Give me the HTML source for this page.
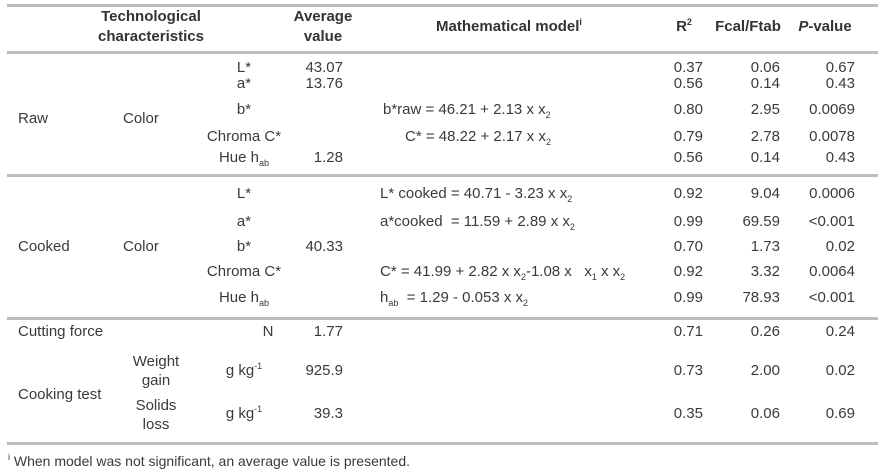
<!DOCTYPE html>
<html><head><meta charset="utf-8"><style>
body{margin:0;width:887px;height:474px;background:#fff;position:relative;overflow:hidden;font-family:"Liberation Sans",Arial,sans-serif;font-size:15px;color:#3a3a3a}
div{position:absolute;white-space:nowrap;line-height:18px}
.c{transform:translateX(-50%)}
.r{transform:translateX(-100%)}
.h{font-weight:bold;color:#333}
.ln{left:7px;width:871px;height:3px;background:#bdbdbd}
sub{font-size:9px;vertical-align:-4px;line-height:0}
sup{font-size:9px;vertical-align:6px;line-height:0}
</style></head><body>
<div class="ln" style="top:4px"></div>
<div class="ln" style="top:51px"></div>
<div class="ln" style="top:174px"></div>
<div class="ln" style="top:317px"></div>
<div class="ln" style="top:442px"></div>

<div class="h c" style="left:151px;top:8px">Technological</div>
<div class="h c" style="left:151px;top:28px">characteristics</div>
<div class="h c" style="left:323px;top:8px">Average</div>
<div class="h c" style="left:323px;top:28px">value</div>
<div class="h c" style="left:509px;top:18px">Mathematical model<sup>i</sup></div>
<div class="h c" style="left:684px;top:18px">R<sup>2</sup></div>
<div class="h c" style="left:748px;top:18px">Fcal/Ftab</div>
<div class="h c" style="left:825px;top:18px"><i>P</i>-value</div>

<div style="left:18px;top:110px">Raw</div>
<div style="left:123px;top:110px">Color</div>
<div class="c" style="left:244px;top:59px">L*</div>
<div class="c" style="left:244px;top:75px">a*</div>
<div class="c" style="left:244px;top:101px">b*</div>
<div class="c" style="left:244px;top:128px">Chroma C*</div>
<div class="c" style="left:244px;top:149px">Hue h<sub>ab</sub></div>
<div class="r" style="left:343px;top:59px">43.07</div>
<div class="r" style="left:343px;top:75px">13.76</div>
<div class="r" style="left:343px;top:149px">1.28</div>
<div style="left:383px;top:101px">b*raw = 46.21 + 2.13 x x<sub>2</sub></div>
<div style="left:405px;top:128px">C* = 48.22 + 2.17 x x<sub>2</sub></div>
<div class="r" style="left:703px;top:59px">0.37</div><div class="r" style="left:780px;top:59px">0.06</div><div class="r" style="left:855px;top:59px">0.67</div>
<div class="r" style="left:703px;top:75px">0.56</div><div class="r" style="left:780px;top:75px">0.14</div><div class="r" style="left:855px;top:75px">0.43</div>
<div class="r" style="left:703px;top:101px">0.80</div><div class="r" style="left:780px;top:101px">2.95</div><div class="r" style="left:855px;top:101px">0.0069</div>
<div class="r" style="left:703px;top:128px">0.79</div><div class="r" style="left:780px;top:128px">2.78</div><div class="r" style="left:855px;top:128px">0.0078</div>
<div class="r" style="left:703px;top:149px">0.56</div><div class="r" style="left:780px;top:149px">0.14</div><div class="r" style="left:855px;top:149px">0.43</div>

<div style="left:18px;top:238px">Cooked</div>
<div style="left:123px;top:238px">Color</div>
<div class="c" style="left:244px;top:185px">L*</div>
<div class="c" style="left:244px;top:213px">a*</div>
<div class="c" style="left:244px;top:238px">b*</div>
<div class="c" style="left:244px;top:263px">Chroma C*</div>
<div class="c" style="left:244px;top:289px">Hue h<sub>ab</sub></div>
<div class="r" style="left:343px;top:238px">40.33</div>
<div style="left:380px;top:185px">L* cooked = 40.71 - 3.23 x x<sub>2</sub></div>
<div style="left:380px;top:213px">a*cooked &nbsp;= 11.59 + 2.89 x x<sub>2</sub></div>
<div style="left:380px;top:263px">C* = 41.99 + 2.82 x x<sub>2</sub>-1.08 x &nbsp;&nbsp;x<sub>1</sub> x x<sub>2</sub></div>
<div style="left:380px;top:289px">h<sub>ab</sub> &nbsp;= 1.29 - 0.053 x x<sub>2</sub></div>
<div class="r" style="left:703px;top:185px">0.92</div><div class="r" style="left:780px;top:185px">9.04</div><div class="r" style="left:855px;top:185px">0.0006</div>
<div class="r" style="left:703px;top:213px">0.99</div><div class="r" style="left:780px;top:213px">69.59</div><div class="r" style="left:855px;top:213px">&lt;0.001</div>
<div class="r" style="left:703px;top:238px">0.70</div><div class="r" style="left:780px;top:238px">1.73</div><div class="r" style="left:855px;top:238px">0.02</div>
<div class="r" style="left:703px;top:263px">0.92</div><div class="r" style="left:780px;top:263px">3.32</div><div class="r" style="left:855px;top:263px">0.0064</div>
<div class="r" style="left:703px;top:289px">0.99</div><div class="r" style="left:780px;top:289px">78.93</div><div class="r" style="left:855px;top:289px">&lt;0.001</div>

<div style="left:18px;top:323px">Cutting force</div>
<div class="c" style="left:268px;top:323px">N</div>
<div class="r" style="left:343px;top:323px">1.77</div>
<div class="r" style="left:703px;top:323px">0.71</div><div class="r" style="left:780px;top:323px">0.26</div><div class="r" style="left:855px;top:323px">0.24</div>

<div class="c" style="left:156px;top:353px">Weight</div>
<div class="c" style="left:156px;top:372px">gain</div>
<div class="c" style="left:244px;top:362px">g kg<sup>-1</sup></div>
<div class="r" style="left:343px;top:362px">925.9</div>
<div class="r" style="left:703px;top:362px">0.73</div><div class="r" style="left:780px;top:362px">2.00</div><div class="r" style="left:855px;top:362px">0.02</div>
<div style="left:18px;top:386px">Cooking test</div>
<div class="c" style="left:156px;top:397px">Solids</div>
<div class="c" style="left:156px;top:416px">loss</div>
<div class="c" style="left:244px;top:405px">g kg<sup>-1</sup></div>
<div class="r" style="left:343px;top:405px">39.3</div>
<div class="r" style="left:703px;top:405px">0.35</div><div class="r" style="left:780px;top:405px">0.06</div><div class="r" style="left:855px;top:405px">0.69</div>

<div style="left:8px;top:452px;font-size:14px"><sup>i</sup> When model was not significant, an average value is presented.</div>
</body></html>
